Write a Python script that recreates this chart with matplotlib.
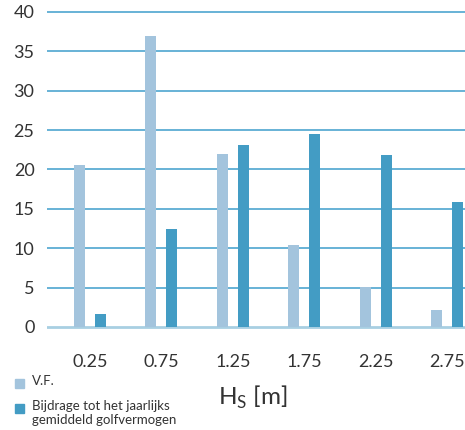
import numpy as np
import matplotlib.pyplot as plt
from matplotlib.patches import Rectangle

# data
hs_labels = ['0.25', '0.75', '1.25', '1.75', '2.25', '2.75']
vf = [20.6, 37.0, 22.0, 10.4, 5.1, 2.1]
bijdrage = [1.6, 12.5, 23.1, 24.5, 21.8, 15.9]
legend_labels = ['V.F.', 'Bijdrage tot het jaarlijks\ngemiddeld golfvermogen']
yticks = [0, 5, 10, 15, 20, 25, 30, 35, 40]

light = '#a3c4dd'
dark = '#439cc4'
plt.rcParams['font.family'] = ['Lato', 'DejaVu Sans']

fig = plt.figure(figsize=(4.65, 4.3), dpi=100)
ax = fig.add_axes([47/465, 0.2286, 1 - 47/465, 0.751])

x = np.arange(len(hs_labels))
ax.bar(x - 0.147, vf, width=0.154, color=light, zorder=3)
ax.bar(x + 0.147, bijdrage, width=0.154, color=dark, zorder=3)

### grid
for t in yticks[1:]:
    ax.axhline(t, color='#4ea6cf', lw=1.2, zorder=1)
ax.axhline(0, color='#a8cfe2', lw=2, zorder=2)

ax.set_xlim(-0.601, 5.245)
ax.set_ylim(-0.6, 40.4)
ax.set_yticks(yticks)
ax.set_xticks(x)
ax.set_xticklabels(hs_labels)
ax.tick_params(length=0, labelsize=13, colors='#333333')
ax.tick_params(axis='x', pad=16)
ax.tick_params(axis='y', pad=9)
for s in ax.spines.values():
    s.set_visible(False)

### x label
fig.text(253/465, 1 - 397/430, r'H$_\mathregular{S}$ [m]', fontsize=17.5,
         color='#333333', ha='center', va='center')

### legend
cols = [light, dark]
ys = [383, 408]
for c, lab, yy in zip(cols, legend_labels, ys):
    fig.add_artist(Rectangle((15/465, 1 - (yy + 5)/430), 9/465, 9/430,
                             color=c, transform=fig.transFigure))
    fig.text(32/465, 1 - (yy - 8)/430, lab, fontsize=9.5, color='#333333',
             ha='left', va='top', linespacing=1.2)

plt.savefig('out.png', dpi=100)
